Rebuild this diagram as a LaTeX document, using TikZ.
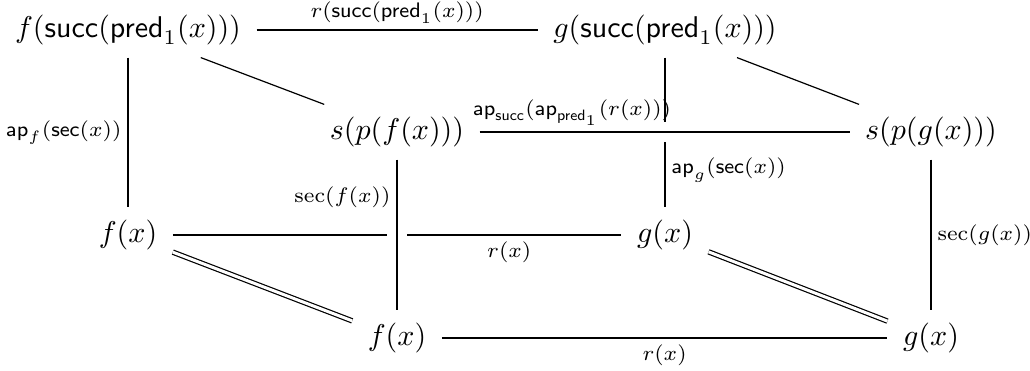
\documentclass[tikz,border=0pt]{standalone}
\usepackage{amsmath}
\begin{document}
\begin{tikzpicture}[x=0.33333pt,y=-0.33333pt,
  obj/.style={inner xsep=5pt, inner ysep=4pt, font=\normalsize},
  lab/.style={font=\scriptsize, inner sep=2pt},
  conn/.style={line width=0.4pt},
  eqline/.style={double, double distance=1pt, line width=0.4pt},
  crossover/.style={preaction={draw,white,line width=6.5pt}}]
\useasboundingbox (0,0) rectangle (1030,371);
\node[obj] (A)  at (128,30)  {$f(\mathsf{succ}(\mathsf{pred}_1(x)))$};
\node[obj] (B)  at (665,30)  {$g(\mathsf{succ}(\mathsf{pred}_1(x)))$};
\node[obj] (SF) at (397,132) {$s(p(f(x)))$};
\node[obj] (SG) at (931,132) {$s(p(g(x)))$};
\node[obj] (FX) at (128,235) {$f(x)$};
\node[obj] (GX) at (665,235) {$g(x)$};
\node[obj] (FB) at (397,338) {$f(x)$};
\node[obj] (GB) at (931,338) {$g(x)$};
\draw[conn] (A) -- node[lab,above] {$r(\mathsf{succ}(\mathsf{pred}_1(x)))$} (B);
\draw[conn] (A) -- node[lab,left] {$\mathsf{ap}_f(\mathsf{sec}(x))$} (FX);
\draw[conn] (A) -- (SF);
\draw[conn] (B) -- (SG);
\draw[conn] (B) -- node[lab,right,pos=0.75] {$\mathsf{ap}_g(\mathsf{sec}(x))$} (GX);
\draw[conn,crossover] (SF) -- node[lab,above,pos=0.25] {$\mathsf{ap}_{\mathsf{succ}}(\mathsf{ap}_{\mathsf{pred}_1}(r(x)))$} (SG);
\draw[conn] (FX) -- node[lab,below,pos=0.75] {$r(x)$} (GX);
\draw[conn,crossover] (SF) -- node[lab,left,pos=0.25] {$\sec(f(x))$} (FB);
\draw[conn] (SG) -- node[lab,right] {$\sec(g(x))$} (GB);
\draw[eqline] (FX) -- (FB);
\draw[eqline] (GX) -- (GB);
\draw[conn] (FB) -- node[lab,below] {$r(x)$} (GB);
\end{tikzpicture}
\end{document}
